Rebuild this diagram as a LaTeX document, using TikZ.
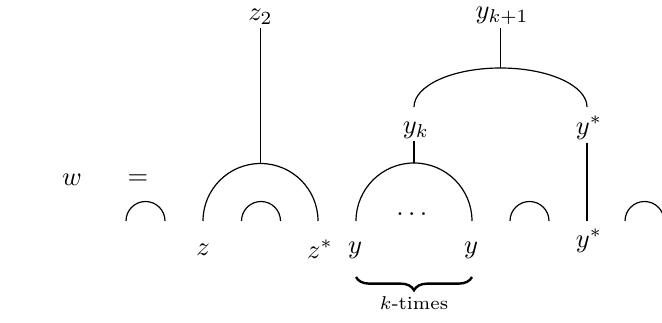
\documentclass[tikz,border=0pt]{standalone}
\usepackage{amsmath}
\usetikzlibrary{decorations.pathreplacing}
\tikzset{
  lbl/.style={inner sep=1pt},
  capline/.style={line width=0.45pt},
  wire/.style={line width=0.45pt},
  kbrace/.style={decorate, decoration={brace, mirror, amplitude=5pt}, line width=0.9pt}
}

\begin{document}
\begin{tikzpicture}[x=0.377pt, y=0.377pt]
  \useasboundingbox (0,0) rectangle (662,322);

  % Left hand side
  \node[lbl] (w)  at (72,142)  {$w$};
  \node[lbl] (eq) at (138,142) {$=$};

  % Caps
  \draw[capline] (126,101) arc[start angle=180, end angle=0, radius=19.5];
  \draw[capline] (203,101) arc[start angle=180, end angle=0, radius=57.5];
  \draw[capline] (241.5,101) arc[start angle=180, end angle=0, radius=19.5];
  \draw[capline] (356,101) arc[start angle=180, end angle=0, radius=58];
  \draw[capline] (510,101) arc[start angle=180, end angle=0, radius=19.5];
  \draw[capline] (625,101) arc[start angle=180, end angle=0, radius=19.5];
  \draw[capline] (414,215) arc[start angle=180, end angle=0, x radius=86.5, y radius=39];

  \coordinate (ztop)  at (260.5,158.5);
  \coordinate (ytop)  at (414,159);
  \coordinate (yytop) at (500.5,254);
  \coordinate (ybot)  at (587,101);

  % Labels
  \node[lbl] (z2)  at (260.5,305) {$z_2$};
  \node[lbl] (zl)  at (203,72)    {$z$};
  \node[lbl] (zr)  at (320,73)    {$z^{*}$};
  \node[lbl] (yl)  at (355,72)    {$y$};
  \node[lbl] (yr)  at (471,72)    {$y$};
  \node[lbl] (dots) at (414,108)  {$\dots$};
  \node[lbl] (yk)  at (416,192)   {$y_k$};
  \node[lbl] (ys)  at (589,194)   {$y^{*}$};
  \node[lbl] (ysb) at (589,81)    {$y^{*}$};
  \node[lbl] (ykk) at (502,306)   {$y_{k+1}$};
  \node[lbl, font=\scriptsize] (kt) at (414,19) {$k$-times};

  % Wires
  \draw[wire] (z2.south -| ztop) -- (ztop);
  \draw[wire] (yk.south -| ytop) -- (ytop);
  \draw[wire] (ykk.south -| yytop) -- (yytop);
  \draw[wire] (ys.south -| ybot) -- (ybot);

  % Brace
  \draw[kbrace] (356,45) -- (472,45);
\end{tikzpicture}
\end{document}
